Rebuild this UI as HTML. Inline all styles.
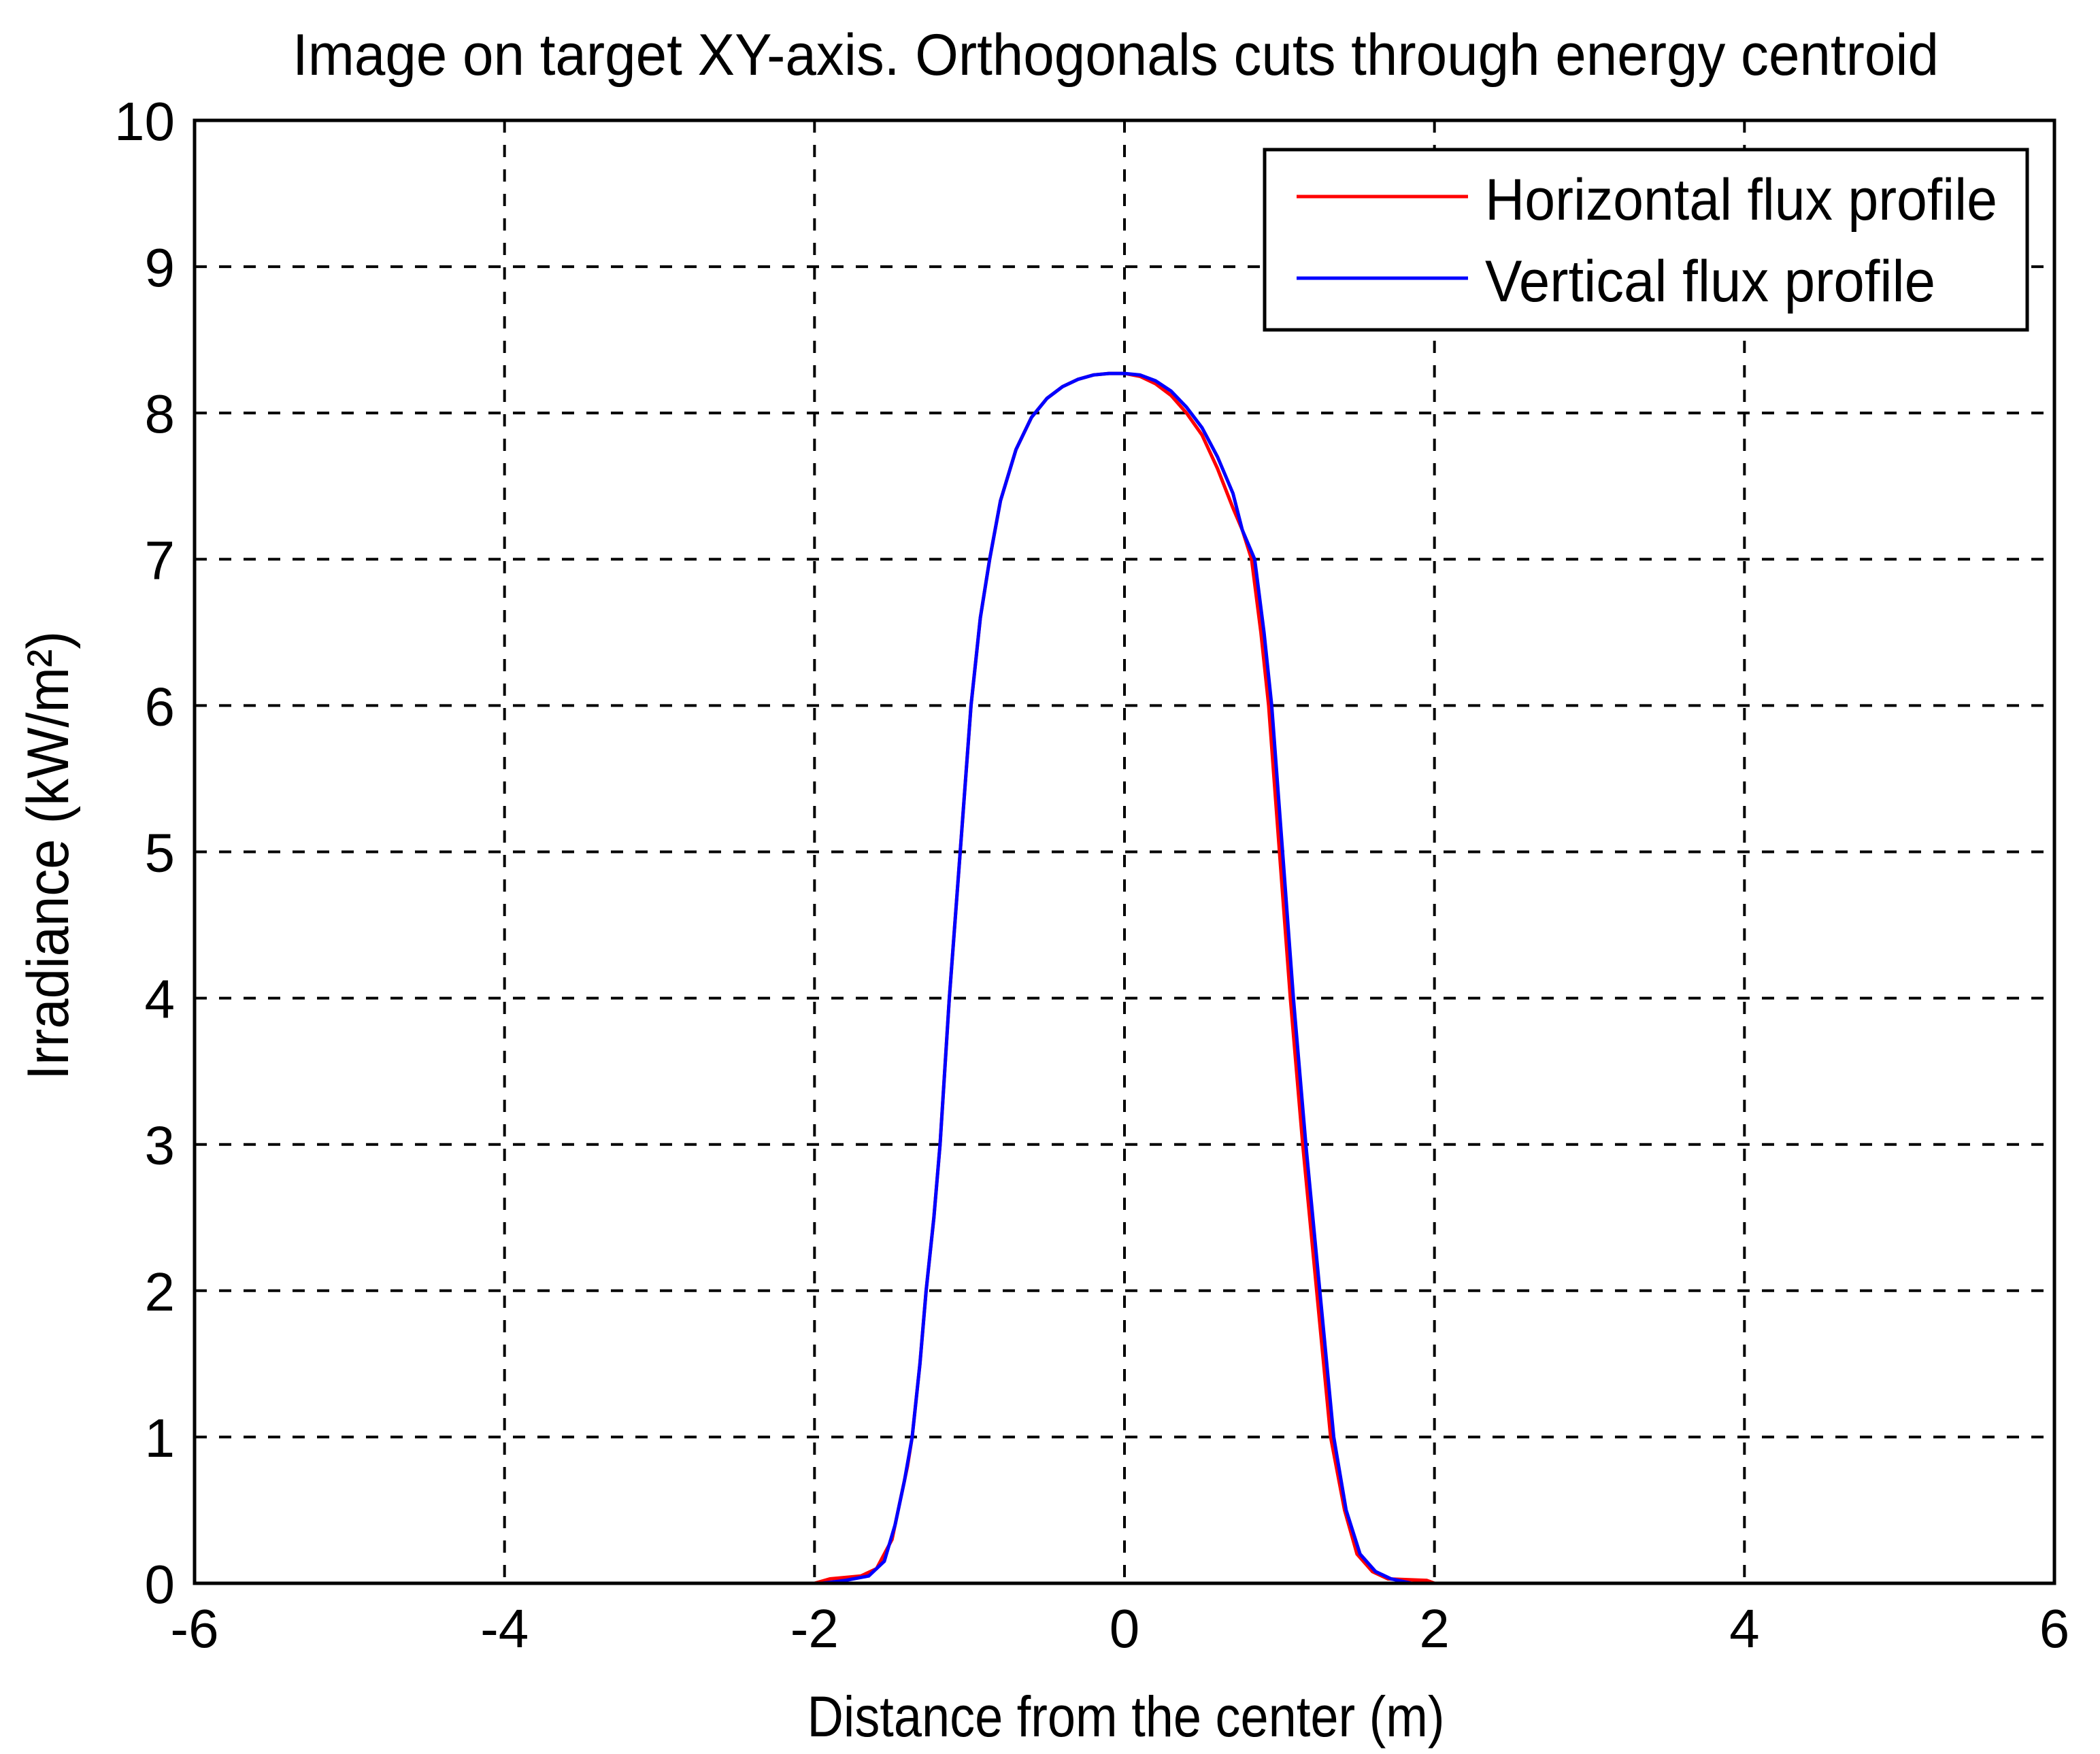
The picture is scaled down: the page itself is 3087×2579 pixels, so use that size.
<!DOCTYPE html>
<html><head><meta charset="utf-8"><style>
html,body{margin:0;padding:0;background:#fff;}
svg{display:block;}
text{font-family:"Liberation Sans",Arial,sans-serif;fill:#000;}
</style></head><body>
<svg id="chart" width="3087" height="2579" viewBox="0 0 3087 2579" xmlns="http://www.w3.org/2000/svg">
<rect x="0" y="0" width="3087" height="2579" fill="#fff"/>
<text x="1640" y="110" font-size="86" text-anchor="middle" textLength="2420" lengthAdjust="spacingAndGlyphs">Image on target XY-axis. Orthogonals cuts through energy centroid</text>
<g id="grid"></g>
<g id="series"></g>
<rect x="286" y="177" width="2734" height="2151" fill="none" stroke="#000" stroke-width="5"/>
<g id="ticks"></g>
<text x="1655" y="2553" font-size="84" text-anchor="middle" textLength="937" lengthAdjust="spacingAndGlyphs">Distance from the center (m)</text>
<text transform="translate(100,1258) rotate(-90)" font-size="86" text-anchor="middle" textLength="660" lengthAdjust="spacingAndGlyphs">Irradiance (kW/m²)</text>
<g>
<rect x="1859" y="220" width="1121" height="265" fill="#fff" stroke="#000" stroke-width="5"/>
<line x1="1906" y1="289" x2="2158" y2="289" stroke="#ff0000" stroke-width="5"/>
<text x="2183" y="323" font-size="86" textLength="753" lengthAdjust="spacingAndGlyphs">Horizontal flux profile</text>
<line x1="1906" y1="409" x2="2158" y2="409" stroke="#0000ff" stroke-width="5"/>
<text x="2183" y="443" font-size="86" textLength="662" lengthAdjust="spacingAndGlyphs">Vertical flux profile</text>
</g>
</svg>
<script>
const xTicks = [-6,-4,-2,0,2,4,6];
const yTicks = [0,1,2,3,4,5,6,7,8,9,10];
const hX = [-6,-2,-1.9,-1.7,-1.6,-1.5,-1.45,-1.4,-1.37,-1.32,-1.28,-1.23,-1.19,-1.13,-1.06,-0.99,-0.93,-0.87,-0.8,-0.7,-0.6,-0.5,-0.4,-0.3,-0.2,-0.1,0,0.1,0.2,0.3,0.4,0.5,0.6,0.7,0.76,0.82,0.88,0.93,1.0,1.07,1.15,1.24,1.33,1.42,1.5,1.6,1.7,1.95,2,6];
const hY = [0,0,0.03,0.05,0.1,0.3,0.55,0.8,1,1.5,2,2.5,3,4,5,6,6.6,7,7.4,7.75,7.97,8.1,8.18,8.23,8.26,8.27,8.27,8.25,8.2,8.12,8.0,7.85,7.62,7.35,7.2,7.0,6.5,6.0,5,4,3,2,1,0.5,0.2,0.08,0.03,0.02,0,0];
const vX = [-6,-1.95,-1.8,-1.65,-1.55,-1.48,-1.42,-1.37,-1.32,-1.28,-1.23,-1.19,-1.13,-1.06,-0.99,-0.93,-0.87,-0.8,-0.7,-0.6,-0.5,-0.4,-0.3,-0.2,-0.1,0,0.1,0.2,0.3,0.4,0.5,0.6,0.7,0.76,0.84,0.9,0.95,1.02,1.09,1.17,1.26,1.35,1.43,1.52,1.62,1.72,1.85,6];
const vY = [0,0,0.02,0.05,0.15,0.4,0.7,1,1.5,2,2.5,3,4,5,6,6.6,7,7.4,7.75,7.97,8.1,8.18,8.23,8.26,8.27,8.27,8.26,8.22,8.15,8.04,7.9,7.7,7.45,7.2,7.0,6.5,6.0,5,4,3,2,1,0.5,0.2,0.08,0.03,0,0];

const L=286,R=3020,T=177,B=2328;
const xs=v=>L+(v+6)/12*(R-L);
const ys=v=>B-(v/10)*(B-T);
const NS='http://www.w3.org/2000/svg';
const grid=document.getElementById('grid');
const ticks=document.getElementById('ticks');
const series=document.getElementById('series');
function mk(tag,attrs,parent){const e=document.createElementNS(NS,tag);for(const k in attrs)e.setAttribute(k,attrs[k]);parent.appendChild(e);return e;}

xTicks.forEach(v=>{
  if(v>-6&&v<6){
    const g=mk('line',{x1:xs(v),y1:T,x2:xs(v),y2:B,stroke:'#000','stroke-width':4,'stroke-dasharray':'18,18'},grid);
    
    
  }
  const t=mk('text',{x:xs(v),y:2422,'font-size':80,'text-anchor':'middle'},ticks);
  t.textContent=String(v);
  
  
});
yTicks.forEach(v=>{
  if(v>0&&v<10){
    const g=mk('line',{x1:L,y1:ys(v),x2:R,y2:ys(v),stroke:'#000','stroke-width':4,'stroke-dasharray':'18,18'},grid);
    
    
  }
  const t=mk('text',{x:257,y:ys(v)+29,'font-size':80,'text-anchor':'end'},ticks);
  t.textContent=String(v);
  
  
});
function draw(X,Y,color,name){
  const pts=X.map((x,i)=>xs(x).toFixed(1)+','+ys(Y[i]).toFixed(1)).join(' ');
  const p=mk('polyline',{points:pts,fill:'none',stroke:color,'stroke-width':5,'stroke-linejoin':'miter'},series);
  
  
}
draw(hX,hY,'#ff0000','horizontal-flux-line');
draw(vX,vY,'#0000ff','vertical-flux-line');
</script>
</body></html>
